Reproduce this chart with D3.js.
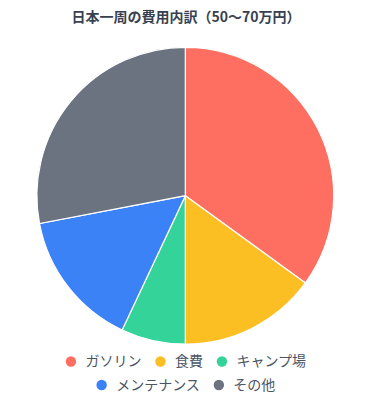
<!DOCTYPE html>
<html><head><meta charset="utf-8">
<script src="https://cdn.jsdelivr.net/npm/d3@7"></script>
<style>html,body{margin:0;padding:0;background:#fff;}svg{display:block;}</style>
</head><body>
<svg id="c" width="371" height="408"></svg>
<script>
const categories = ["ガソリン", "食費", "キャンプ場", "メンテナンス", "その他"];
const values = [35, 15, 7, 15, 28];
const colors = ["#ff6f61", "#fbbf24", "#34d399", "#3b82f6", "#6b7280"];
const title = "日本一周の費用内訳（50〜70万円）";

const font = "'Noto Sans CJK JP', 'Noto Sans', sans-serif";
const svg = d3.select("#c");
const W = 371;

svg.append("text").attr("x", W / 2 + 0.5).attr("y", 22)
  .attr("text-anchor", "middle").attr("font-family", font)
  .attr("font-size", 14).attr("font-weight", "bold").attr("fill", "#374151")
  .text(title);

const cx = 185.3, cy = 195.7, r = 148.4;
const pie = d3.pie().sort(null).value(d => d.v);
const arc = d3.arc().innerRadius(0).outerRadius(r);
const data = categories.map((c, i) => ({ c, v: values[i], col: colors[i] }));
svg.append("g").attr("transform", `translate(${cx},${cy})`)
  .selectAll("path").data(pie(data)).join("path")
  .attr("d", arc).attr("fill", d => d.data.col)
  .attr("stroke", "#fff").attr("stroke-width", 1.2);

const rows = [[0, 1, 2], [3, 4]];
const rowY = [361.5, 385];
rows.forEach((row, ri) => {
  const g = svg.append("g");
  let x = 0;
  row.forEach((idx, k) => {
    g.append("circle").attr("cx", x + 5).attr("cy", rowY[ri]).attr("r", 5.2).attr("fill", colors[idx]);
    const t = g.append("text").attr("x", x + 19.5).attr("y", rowY[ri] + 4.8)
      .attr("font-family", font).attr("font-size", 14).attr("fill", "#4b5563")
      .text(categories[idx]);
    const w = t.node().getComputedTextLength();
    x = x + 19.5 + w + (k < row.length - 1 ? 14 : 0);
  });
  g.attr("transform", `translate(${(W - x) / 2 + 0.5},0)`);
});
</script>
</body></html>
